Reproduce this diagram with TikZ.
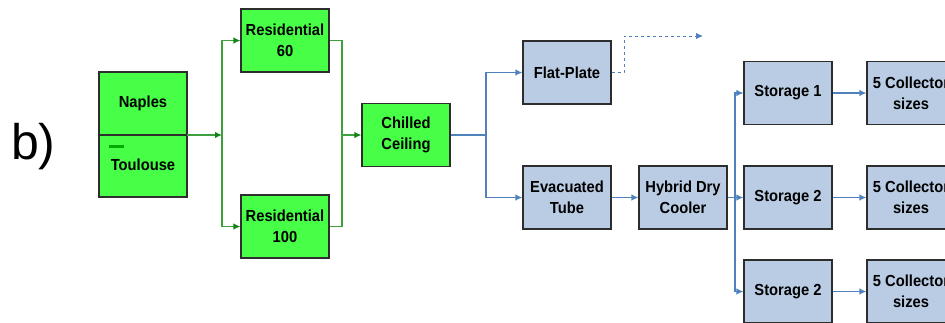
\documentclass[tikz,border=0pt]{standalone}
\usepackage{fontspec}
\setmainfont{Liberation Sans}
\newfontfamily\boxfont[FakeStretch=0.92]{Liberation Sans}
\usetikzlibrary{arrows.meta}
\definecolor{gfill}{RGB}{70,255,70}
\definecolor{gline}{RGB}{60,160,60}
\definecolor{garrow}{RGB}{20,130,20}
\definecolor{bfill}{RGB}{185,204,228}
\definecolor{bline}{RGB}{79,129,189}
\definecolor{bord}{RGB}{45,45,45}
\definecolor{gdash}{RGB}{0,170,0}
\begin{document}
\begin{tikzpicture}[x=1pt,y=-1pt,
  box/.style={draw=bord,line width=1.1pt,minimum width=88pt,minimum height=63pt,inner sep=0pt,
    align=center,font=\boxfont\fontsize{16}{21}\selectfont\bfseries},
  gbox/.style={box,fill=gfill},
  bbox/.style={box,fill=bfill},
  lbl/.style={inner sep=0pt,font=\boxfont\fontsize{16}{21}\selectfont\bfseries},
  gcon/.style={draw=gline,line width=1.3pt},
  garr/.style={gcon,-{Latex[length=7pt,width=6.5pt,color=garrow]}},
  bcon/.style={draw=bline,line width=1.3pt},
  barr/.style={bcon,-{Latex[length=7pt,width=6.5pt]}}
]
\useasboundingbox (0,0) rectangle (945,322);
% label
\node[anchor=base west,inner sep=0pt,font=\fontsize{50}{50}\selectfont] (lab) at (11,159) {b)};
% city box
\node[gbox,minimum height=125pt] (city) at (143,134.5) {};
\coordinate (divL) at (99,135);
\coordinate (divR) at (187,135);
\draw[draw=bord,line width=1.1pt] (divL) -- (divR);
\node[lbl] (naples) at (143,103) {Naples};
\node[lbl] (toulouse) at (143,165) {Toulouse};
\node[fill=gdash,minimum width=15pt,minimum height=3.5pt,inner sep=0pt] (gd) at (116.5,146.5) {};
% green nodes
\node[gbox] (res60) at (285,40.5) {Residential\\60};
\node[gbox] (res100) at (285,226.5) {Residential\\100};
\node[gbox] (chill) at (406,135) {Chilled\\Ceiling};
% blue nodes
\node[bbox] (flat) at (567,72.5) {Flat-Plate};
\node[bbox] (evac) at (567,197.5) {Evacuated\\Tube};
\node[bbox] (hyb) at (683,197.5) {Hybrid Dry\\Cooler};
\node[bbox] (st1) at (788,93) {Storage 1};
\node[bbox] (st2) at (788,197.5) {Storage 2};
\node[bbox] (st3) at (788,291.5) {Storage 2};
\node[bbox] (c1) at (911,93) {5 Collector\\sizes};
\node[bbox] (c2) at (911,197.5) {5 Collector\\sizes};
\node[bbox] (c3) at (911,291.5) {5 Collector\\sizes};
% junctions
\coordinate (j1) at (222,135);
\coordinate (j2) at (342,135);
\coordinate (j3) at (486,135);
\coordinate (j4) at (735,197.5);
\coordinate (d1) at (624,36);
\coordinate (dend) at (703,36);
% green connectors
\draw[garr] (divR) -- (j1);
\draw[garr] (j1) |- (res60.west);
\draw[garr] (j1) |- (res100.west);
\draw[gcon] (res60.east) -| (j2);
\draw[gcon] (res100.east) -| (j2);
\draw[garr] (j2) -- (chill.west);
% blue connectors
\draw[bcon] (chill.east) -- (j3);
\draw[barr] (j3) |- (flat.west);
\draw[barr] (j3) |- (evac.west);
\draw[barr,dashed,line width=0.9pt] (flat.east) -| (d1) -- (dend);
\draw[barr] (evac) -- (hyb);
\draw[bcon] (hyb.east) -- (j4);
\draw[barr] (j4) |- (st1.west);
\draw[barr] (j4) -- (st2.west);
\draw[barr] (j4) |- (st3.west);
\draw[barr] (st1) -- (c1);
\draw[barr] (st2) -- (c2);
\draw[barr] (st3) -- (c3);
\end{tikzpicture}
\end{document}
